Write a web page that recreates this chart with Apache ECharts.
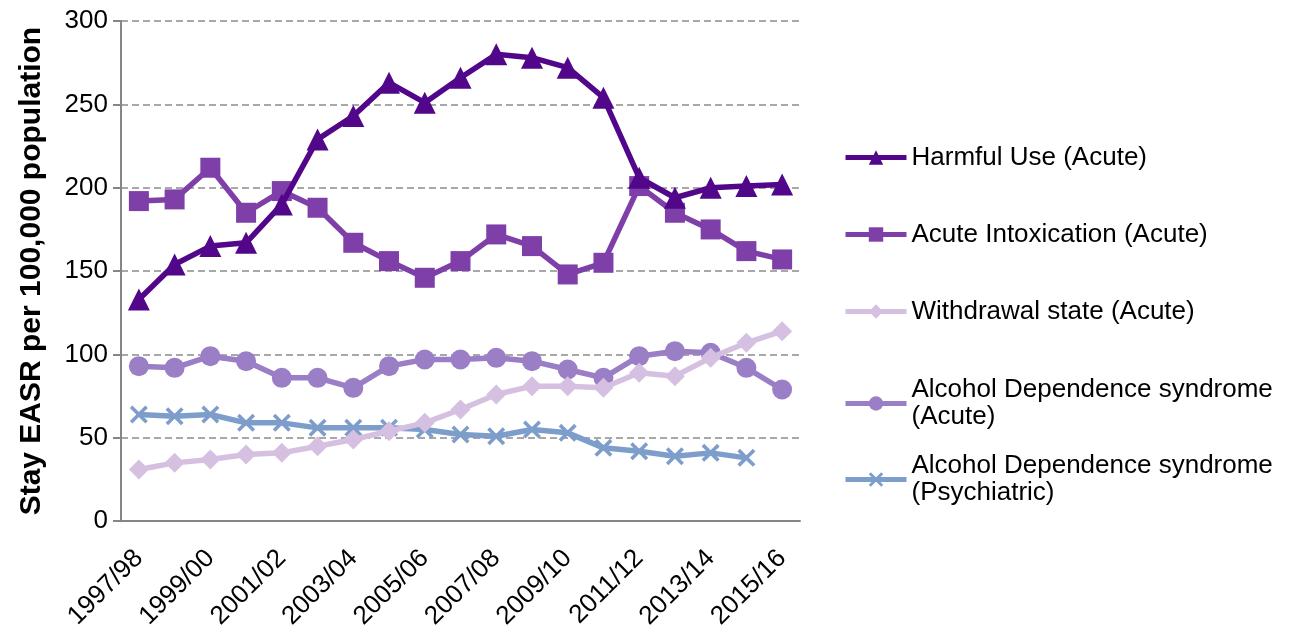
<!DOCTYPE html>
<html>
<head>
<meta charset="utf-8">
<script src="https://cdn.jsdelivr.net/npm/echarts@6/dist/echarts.min.js"></script>
<style>
	html, body { margin: 0; padding: 0; background: #fff; }
	#myChart { width: 1293px; height: 632px; }
</style>
</head>
<body>
<div id="myChart"></div>
<script>
	// 年份
	var years = ['1997/98', '1998/99', '1999/00', '2000/01', '2001/02', '2002/03', '2003/04', '2004/05', '2005/06', '2006/07',
		'2007/08', '2008/09', '2009/10', '2010/11', '2011/12', '2012/13', '2013/14', '2014/15', '2015/16'];
	var yTicks = [0, 50, 100, 150, 200, 250, 300];

	var seriesNames = ['Harmful Use (Acute)', 'Acute Intoxication (Acute)', 'Withdrawal state (Acute)',
		'Alcohol Dependence syndrome (Acute)', 'Alcohol Dependence syndrome (Psychiatric)'];

	var harmfulUse = [133, 154, 165, 167, 190, 229, 243, 263, 251, 266, 280, 278, 272, 254, 206, 194, 200, 201, 202];
	var acuteIntoxication = [192, 193, 212, 185, 198, 188, 167, 156, 146, 156, 172, 165, 148, 155, 201, 185, 175, 162, 157];
	var withdrawal = [31, 35, 37, 40, 41, 45, 49, 54, 59, 67, 76, 81, 81, 80, 89, 87, 98, 107, 114];
	var dependenceAcute = [93, 92, 99, 96, 86, 86, 80, 93, 97, 97, 98, 96, 91, 86, 99, 102, 101, 92, 79];
	var dependencePsych = [64, 63, 64, 59, 59, 56, 56, 56, 55, 52, 51, 55, 53, 44, 42, 39, 41, 38, null];

	var colors = ['#52068a', '#7f3fa8', '#d6c0e2', '#9a7ec6', '#7d9dcb'];
	var symbols = ['triangle', 'rect', 'diamond', 'circle',
		'path://M0,1.4L1.4,0L5,3.6L8.6,0L10,1.4L6.4,5L10,8.6L8.6,10L5,6.4L1.4,10L0,8.6L3.6,5Z'];
	var symbolSizes = [22, 20, 20, 20, 18];
	var allData = [harmfulUse, acuteIntoxication, withdrawal, dependenceAcute, dependencePsych];

	var legendTops = [139, 216, 293, 358, 434];

	var series = [];
	var legends = [];
	for (var i = 0; i < seriesNames.length; i++) {
		series.push({
			name: seriesNames[i],
			type: 'line',
			data: allData[i],
			symbol: symbols[i],
			symbolSize: symbolSizes[i],
			z: 10 - i,
			itemStyle: { color: colors[i] },
			lineStyle: { color: colors[i], width: 5.5 }
		});
		var multi = i >= 3;
		legends.push({
			orient: 'vertical',
			left: 838,
			top: legendTops[i],
			data: [seriesNames[i]],
			itemWidth: 61,
			itemHeight: 18,
			lineStyle: { width: 5 },
			formatter: function(name) {
				return name.replace('syndrome ', 'syndrome\n');
			},
			textStyle: {
				fontFamily: 'Liberation Sans, Arial',
				fontSize: 26,
				color: '#000',
				lineHeight: 27,
				padding: multi ? [27, 0, 0, 0] : 0
			}
		});
	}

	var option = {
		backgroundColor: '#fff',
		animation: false,
		legend: legends,
		grid: {
			left: 121,
			top: 21,
			right: 493,
			bottom: 110,
			containLabel: false
		},
		xAxis: {
			type: 'category',
			boundaryGap: true,
			data: years,
			axisLine: { lineStyle: { color: '#868686', width: 2 } },
			axisTick: { interval: 0, length: 8, lineStyle: { color: '#868686', width: 2 } },
			axisLabel: {
				interval: 1,
				rotate: 45,
				margin: 33,
				fontFamily: 'Liberation Sans, Arial',
				fontSize: 26,
				color: '#000'
			}
		},
		yAxis: {
			type: 'value',
			min: yTicks[0],
			max: yTicks[yTicks.length - 1],
			interval: 50,
			name: 'Stay EASR per 100,000 population',
			nameLocation: 'middle',
			nameGap: 74,
			nameTextStyle: {
				fontFamily: 'Liberation Sans, Arial',
				fontSize: 30,
				fontWeight: 'bold',
				color: '#000'
			},
			axisLine: { show: true, lineStyle: { color: '#868686', width: 2 } },
			axisTick: { show: true, length: 8, lineStyle: { color: '#868686', width: 2 } },
			axisLabel: {
				margin: 13,
				fontFamily: 'Liberation Sans, Arial',
				fontSize: 26,
				color: '#000'
			},
			splitLine: { lineStyle: { color: '#8c8c8c', width: 1.5, type: [7, 4] } }
		},
		series: series
	};

	var myChart = echarts.init(document.getElementById('myChart'));
	myChart.setOption(option);
</script>
</body>
</html>
